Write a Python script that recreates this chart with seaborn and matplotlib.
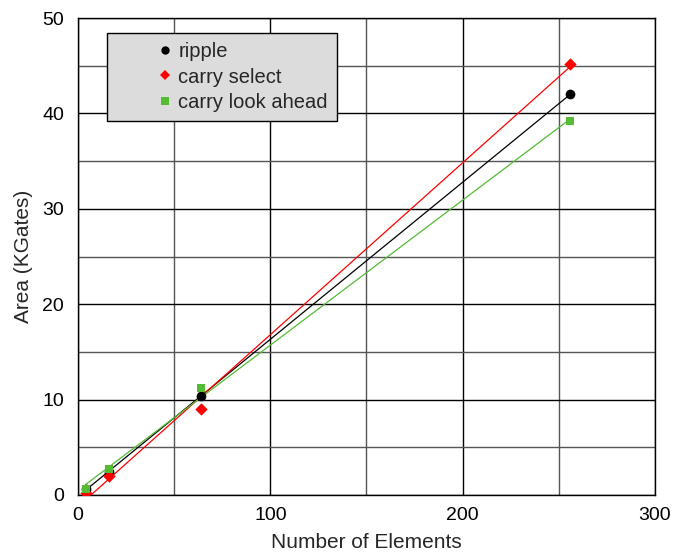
import matplotlib
matplotlib.use("Agg")
import matplotlib.pyplot as plt
import seaborn as sns
import pandas as pd
import numpy as np
from matplotlib.lines import Line2D

sns.set_style("white")
plt.rcParams['font.family'] = ['Liberation Sans', 'DejaVu Sans']

elements = [4, 16, 64, 256]
ripple = [0.6, 2.4, 10.4, 42.0]
carry_select = [0.2, 2.0, 9.0, 45.2]
carry_look_ahead = [0.6, 2.7, 11.2, 39.2]

series = [
    ("ripple", ripple, "black", "o", 7, 6.0),
    ("carry select", carry_select, "red", "D", 6.3, 5.2),
    ("carry look ahead", carry_look_ahead, "#55bb33", "s", 6, 5.2),
]

fig = plt.figure(figsize=(6.73, 5.54), dpi=100)
ax = fig.add_axes([0.116, 0.1065, 0.857, 0.861])

ax.set_xlim(0, 300)
ax.set_ylim(0, 50)
ax.set_xticks([0, 100, 200, 300])
ax.set_yticks([0, 10, 20, 30, 40, 50])
ax.set_xticks([50, 150, 250], minor=True)
ax.set_yticks([5, 15, 25, 35, 45], minor=True)
ax.grid(True, which='major', color='black', linewidth=1.0)
ax.grid(True, which='minor', color='#555555', linewidth=1.0)
ax.set_axisbelow(True)

handles = []
for name, vals, col, mk, ms, lms in series:
    df = pd.DataFrame({"x": elements, "y": vals})
    sns.regplot(data=df, x="x", y="y", ax=ax, ci=None, truncate=True,
                marker=mk, color=col,
                scatter_kws={"s": ms**2, "linewidths": 0, "zorder": 3, "alpha": 1},
                line_kws={"linewidth": 0.9, "zorder": 2})
    handles.append(Line2D([], [], linestyle='none', marker=mk, color=col,
                          markersize=lms, markeredgewidth=0, label=name))

for sp in ax.spines.values():
    sp.set_color('black')
    sp.set_linewidth(1.0)

ax.tick_params(axis='y', which='major', labelsize=14, length=0, pad=10, colors='black')
ax.tick_params(axis='x', which='major', labelsize=14, length=0, pad=9, colors='black')
ax.tick_params(axis='both', which='minor', length=0)
ax.set_xlabel("Number of Elements", fontsize=15, labelpad=6)
ax.set_ylabel("Area (KGates)", fontsize=15, labelpad=7)

fs = 14.5
leg = ax.legend(handles=handles, loc='upper left', bbox_to_anchor=(0.05, 0.969),
                prop={'size': fs}, frameon=True, fancybox=False,
                handlelength=4.9, handletextpad=-1.8,
                borderpad=0.45, labelspacing=0.33, borderaxespad=0)
leg.get_frame().set_facecolor('#dcdcdc')
leg.get_frame().set_edgecolor('black')
leg.get_frame().set_alpha(1)
leg.get_frame().set_linewidth(1.0)

fig.savefig("out.png", dpi=100)
